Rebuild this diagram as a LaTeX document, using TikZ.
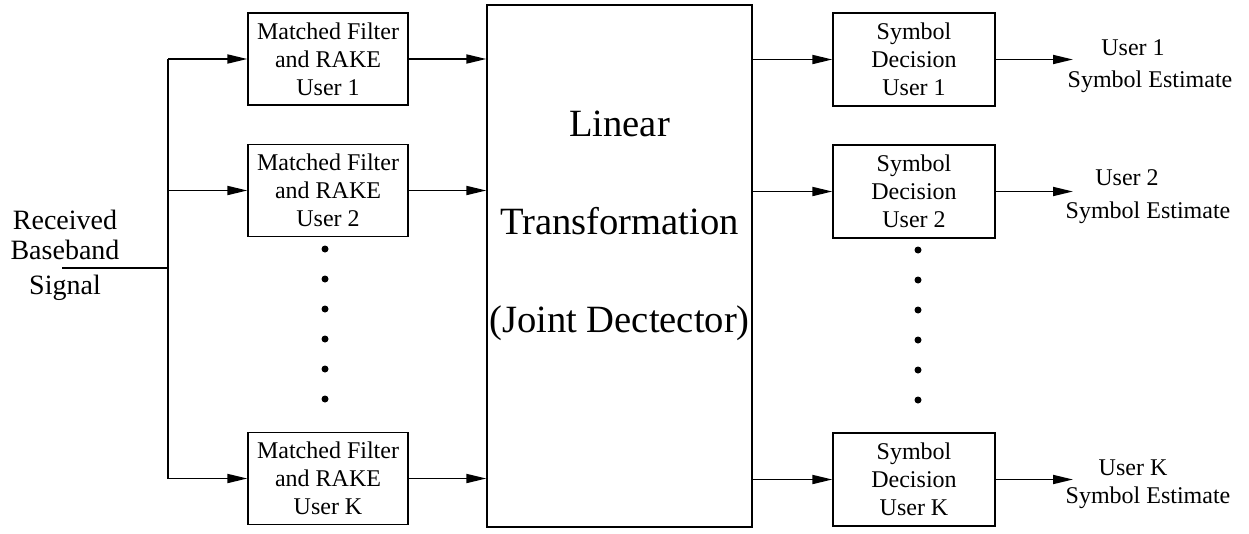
\documentclass[tikz,border=0pt]{standalone}
\usepackage{fontspec}
\setmainfont{Liberation Serif}
\usetikzlibrary{arrows.meta}
\begin{document}
\begin{tikzpicture}[x=1pt,y=-1pt,
  box/.style={draw, line width=1.3pt, minimum width=160pt, minimum height=92pt, inner sep=0pt, align=center, font=\fontsize{24}{28}\selectfont},
  arr/.style={-{Triangle[length=20pt,width=9pt]}, line width=1.8pt},
  wire/.style={line width=1.8pt},
  lbl/.style={font=\fontsize{24}{28}\selectfont, inner sep=0pt},
  dotm/.style={circle, fill, inner sep=0pt, minimum size=7pt}]
\useasboundingbox (0,0) rectangle (1249,533);

% input
\node[lbl, align=center, font=\fontsize{28}{30}\selectfont] (rx) at (65,255) {Received\\Baseband\\[5pt]Signal};
\coordinate (in) at (62,268);
\coordinate (bus) at (168,268);
\coordinate (b1) at (168,59);
\coordinate (b2) at (168,190.5);
\coordinate (bK) at (168,478.5);
\draw[wire] (in) -- (bus);
\draw[wire] (b1) -- (bK);

% matched filters
\node[box] (mf1) at (328,59) {Matched Filter\\and RAKE\\User 1};
\node[box] (mf2) at (328,190.5) {Matched Filter\\and RAKE\\User 2};
\node[box] (mfK) at (328,478.5) {Matched Filter\\and RAKE\\User K};
\draw[arr] (b1) -- (mf1.west);
\draw[arr] (b2) -- (mf2.west);
\draw[arr] (bK) -- (mfK.west);

% big block
\node[draw, line width=1.3pt, minimum width=265pt, minimum height=522pt, inner sep=0pt] (lt) at (619.5,266) {};
\node[lbl, align=center, font=\fontsize{38.6}{98}\selectfont] (ltt) at (619.5,226) {Linear\\Transformation\\(Joint Dectector)};
\draw[arr] (mf1.east) -- (mf1.east -| lt.west);
\draw[arr] (mf2.east) -- (mf2.east -| lt.west);
\draw[arr] (mfK.east) -- (mfK.east -| lt.west);

% symbol decisions
\node[box, minimum width=162pt, minimum height=93pt] (sd1) at (914,59.5) {Symbol\\Decision\\User 1};
\node[box, minimum width=162pt, minimum height=93pt] (sd2) at (914,191.5) {Symbol\\Decision\\User 2};
\node[box, minimum width=162pt, minimum height=93pt] (sdK) at (914,479.5) {Symbol\\Decision\\User K};
\draw[arr] (sd1.west -| lt.east) -- (sd1.west);
\draw[arr] (sd2.west -| lt.east) -- (sd2.west);
\draw[arr] (sdK.west -| lt.east) -- (sdK.west);

% outputs
\coordinate (ox) at (1073,0);
\coordinate (o1) at (sd1.east -| ox);
\coordinate (o2) at (sd2.east -| ox);
\coordinate (oK) at (sdK.east -| ox);
\draw[arr] (sd1.east) -- (o1);
\draw[arr] (sd2.east) -- (o2);
\draw[arr] (sdK.east) -- (oK);
\node[lbl] (u1) at (1133,48) {User 1};
\node[lbl] (s1) at (1150,82) {Symbol Estimate};
\node[lbl] (u2) at (1127,178) {User 2};
\node[lbl] (s2) at (1148,213) {Symbol Estimate};
\node[lbl] (uK) at (1133,468) {User K};
\node[lbl] (sK) at (1148,498) {Symbol Estimate};

% dots
\foreach \i in {0,...,5} {
  \node[dotm] (dm\i) at (325,249+30*\i) {};
  \node[dotm] (ds\i) at (918,250+30*\i) {};
}
\end{tikzpicture}
\end{document}
